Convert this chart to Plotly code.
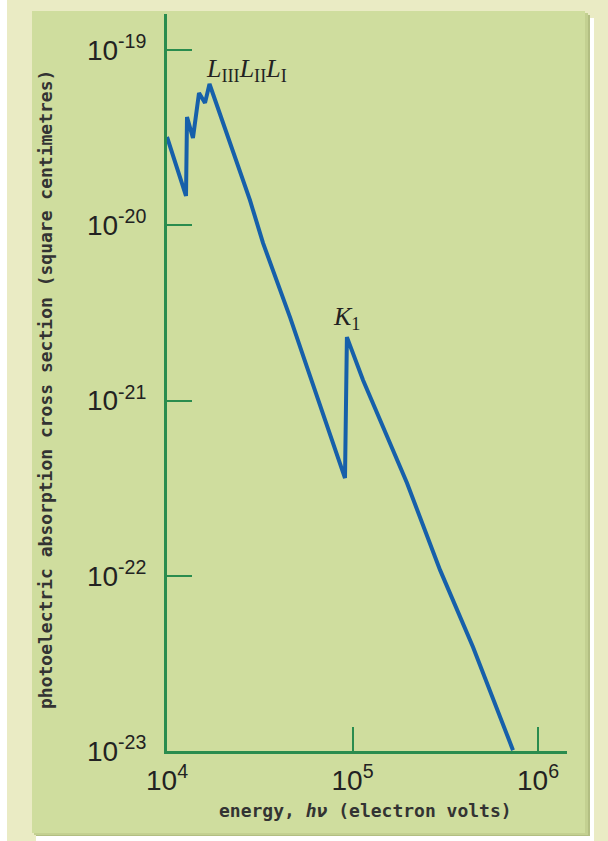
import math
import plotly.graph_objects as go

# Photoelectric absorption cross section of lead vs photon energy
energy_ev = [1.00e4, 1.266e4, 1.282e4, 1.380e4, 1.488e4, 1.603e4, 1.695e4,
             2.80e4, 3.292e4, 4.603e4, 5.685e4, 9.11e4, 9.33e4,
             1.139e5, 1.967e5, 2.963e5, 4.462e5, 7.332e5]
cross_section_cm2 = [3.19e-20, 1.47e-20, 4.15e-20, 3.15e-20, 5.69e-20, 4.99e-20, 6.40e-20,
                     1.39e-20, 7.93e-21, 2.99e-21, 1.55e-21, 3.61e-22, 2.30e-21,
                     1.31e-21, 3.38e-22, 1.08e-22, 3.92e-23, 1.01e-23]

x_tick_vals = [1e4, 1e5, 1e6]
x_tick_text = ["10<sup>4</sup>", "10<sup>5</sup>", "10<sup>6</sup>"]
y_tick_vals = [1e-19, 1e-20, 1e-21, 1e-22, 1e-23]
y_tick_text = ["10<sup>-19</sup>", "10<sup>-20</sup>", "10<sup>-21</sup>",
               "10<sup>-22</sup>", "10<sup>-23</sup>"]

edge_labels = ["<i>L</i><sub>III</sub><i>L</i><sub>II</sub><i>L</i><sub>I</sub>",
               "<i>K</i><sub>1</sub>"]
edge_label_pos = [(2.67e4, 7.7e-20), (9.33e4, 2.96e-21)]

W, H = 608, 841
L_M, R_M, T_M, B_M = 167, 41, 14, 90
PW, PH = W - L_M - R_M, H - T_M - B_M

GREEN_AXIS = "rgb(42,140,78)"
LINE_BLUE = "rgb(22,96,170)"
PANEL = "rgb(207,221,158)"
CREAM = "rgb(234,235,196)"
TITLE_FONT = dict(family="DejaVu Sans Mono", size=18, color="#333", weight="bold")


def fx(px):
    return (px - L_M) / PW


def fy(py):
    return (H - B_M - py) / PH


def rect(x0, y0, x1, y1, color):
    return dict(type="rect", xref="paper", yref="paper", layer="below",
                x0=fx(x0), x1=fx(x1), y0=fy(y1), y1=fy(y0),
                fillcolor=color, line=dict(width=0))


fig = go.Figure()
fig.add_trace(go.Scatter(
    x=energy_ev, y=cross_section_cm2, mode="lines",
    line=dict(color=LINE_BLUE, width=4), showlegend=False, hoverinfo="skip",
))

shapes = [
    rect(0, 0, 7, H, "white"),
    rect(590, 18, 594, H, "white"),
    rect(36, 836, 594, H, "white"),
    rect(36, 15, 590, 836, "rgb(178,190,130)"),
    rect(34, 13, 588, 835, "rgb(195,208,145)"),
    rect(32, 11, 585, 833, PANEL),
]

annotations = []
for text, (ex, cs) in zip(edge_labels, edge_label_pos):
    # log axes take annotation positions in log10 units
    annotations.append(dict(x=math.log10(ex), y=math.log10(cs), xref="x", yref="y",
                            text=text, showarrow=False,
                            xanchor="center", yanchor="middle",
                            font=dict(family="Liberation Serif", size=26, color="#222")))
annotations.append(dict(
    x=fx(365), y=fy(810), xref="paper", yref="paper", showarrow=False,
    xanchor="center", yanchor="middle",
    text="energy, <i>hν</i> (electron volts)", font=TITLE_FONT))
annotations.append(dict(
    x=fx(45), y=fy(390), xref="paper", yref="paper", showarrow=False, textangle=-90,
    xanchor="center", yanchor="middle",
    text="photoelectric absorption cross section (square centimetres)", font=TITLE_FONT))

fig.update_xaxes(
    type="log", range=[4, 4 + PW / 185.5],
    tickvals=x_tick_vals, ticktext=x_tick_text,
    ticks="inside", ticklen=24, tickwidth=2, tickcolor=GREEN_AXIS,
    showline=True, linecolor=GREEN_AXIS, linewidth=3,
    showgrid=False, zeroline=False, ticklabelstandoff=2,
    tickfont=dict(family="Liberation Sans", size=28, color="#222"),
)
fig.update_yaxes(
    type="log", range=[-23, -23 + PH / 175.25],
    tickvals=y_tick_vals, ticktext=y_tick_text,
    ticks="inside", ticklen=25, tickwidth=2, tickcolor=GREEN_AXIS,
    showline=True, linecolor=GREEN_AXIS, linewidth=3,
    showgrid=False, zeroline=False, ticklabelstandoff=12,
    tickfont=dict(family="Liberation Sans", size=28, color="#222"),
)
fig.update_layout(
    width=W, height=H, margin=dict(l=L_M, r=R_M, t=T_M, b=B_M),
    paper_bgcolor=CREAM, plot_bgcolor="rgba(0,0,0,0)",
    shapes=shapes, annotations=annotations,
)
fig.write_html("out.html")
